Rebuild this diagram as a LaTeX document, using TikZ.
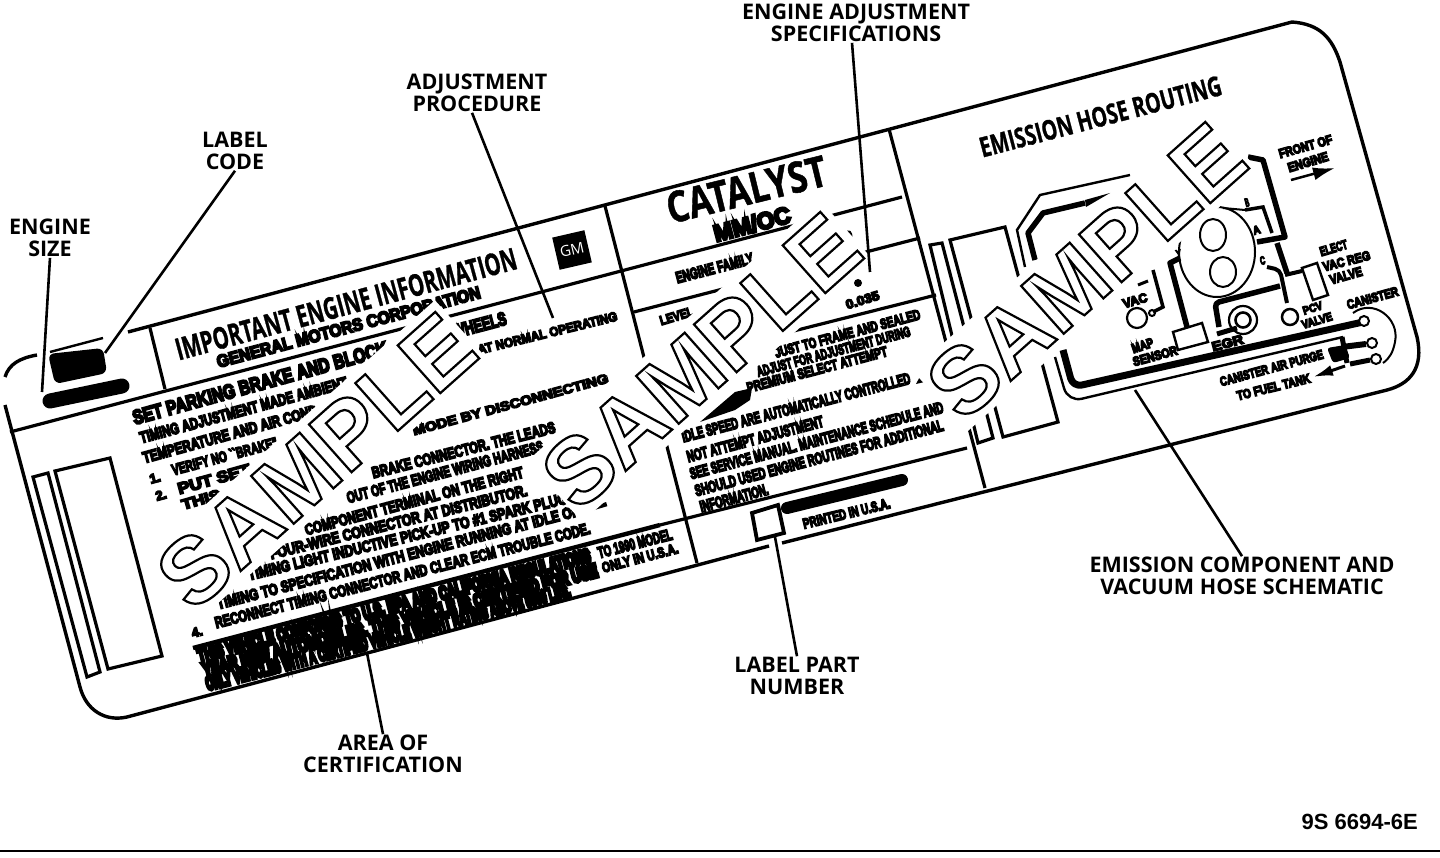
\documentclass[tikz,border=0pt]{standalone}
\usepackage{fontspec}
\usetikzlibrary{arrows.meta}
\newfontfamily\lblfont{Open Sans}
\newfontfamily\headfont[BoldFeatures={FakeBold=1.2}]{Open Sans}
\newfontfamily\stampfont{Liberation Sans}
\newfontfamily\blotfont[BoldFeatures={FakeBold=11}]{Liberation Sans}
\newfontfamily\certfont[BoldFeatures={FakeBold=24}]{Liberation Sans}
\newcounter{rowcount}
\newcommand{\rowfont}{\blotfont\bfseries}
\newcommand{\txtrow}[6][11]{%
  \stepcounter{rowcount}%
  \pgfmathsetmacro{\rowang}{atan2(#3-#5,#4-#2)}%
  \pgfmathsetmacro{\rowlen}{veclen(#4-#2,#5-#3)}%
  \node[rowtext, rotate=\rowang] (row\arabic{rowcount}) at (#2,#3)
    {\resizebox{\rowlen pt}{#1 pt}{\rowfont #6}};}
\newcommand{\stampword}{\special{pdf:code q 2 Tr 2.2 w 0 G 1 g}SAMPLE\special{pdf:code Q}}
\begin{document}
\begin{tikzpicture}[
    x=1pt, y=-1pt,
    outline/.style={line width=3.4pt, line join=round},
    rule/.style={line width=3.2pt},
    hose/.style={line width=5.5pt, line join=round},
    thinpart/.style={line width=2.4pt},
    bar/.style={line width=15pt, line cap=round},
    rowtext/.style={anchor=west, inner sep=0pt, outer sep=0pt},
    stamp/.style={fill=white, inner xsep=2pt, inner ysep=8pt, rotate=41.7, font=\stampfont\bfseries\fontsize{93}{93}\selectfont},
    lbl/.style={align=center, inner sep=1pt, font=\lblfont\bfseries\fontsize{21.5}{21.5}\selectfont},
    numeral/.style={inner sep=0pt, rotate=15, font=\blotfont\bfseries\fontsize{13}{13}\selectfont},
    leader/.style={line width=2.6pt}
  ]
  \useasboundingbox (0,0) rectangle (1440,858);

  % label outline
  \draw[outline] (128,332) -- (1292,22) .. controls (1320,24) and (1332,38) .. (1340,62) -- (1417,337)
    .. controls (1424,368) and (1410,384) .. (1387,390) -- (782,543);
  \draw[outline] (769,546) -- (127,717) .. controls (105,722) and (86,710) .. (80,687) -- (5,405);
  \draw[outline] (5,377) .. controls (9,364) and (20,358) .. (37,355);

  % rules
  \draw[rule] (10,432) -- (902,197);
  \draw[rule] (150,328) -- (165,389);
  \draw[rule] (605,206) -- (697,563);
  \draw[rule] (889,129) -- (985,488);
  \draw[rule] (634,312) -- (920,238);
  \draw[rule] (655,366) -- (936,295);
  \draw[line width=4.4pt] (193,648) -- (660,525);
  \draw[rule] (660,525) -- (967,448);

  % left panel
  \draw[rule] (33,477) -- (48,473) -- (100,672) -- (87,677) -- cycle;
  \draw[rule] (55,471) -- (110,458) -- (162,656) -- (108,669) -- cycle;
  % right panel
  \draw[rule] (930,245) -- (942,243) -- (993,438) -- (978,443) -- cycle;
  \draw[rule] (950,240) -- (1005,227) -- (1058,422) -- (1003,437) -- cycle;

  % code and size
  \draw[thinpart] (50,352) -- (103,338);
  \fill[rounded corners=6pt] (48,354) -- (103,348) -- (107,373) -- (55,384) -- cycle;
  \draw[bar] (50,401) -- (122,386);

  % headings
  \renewcommand{\rowfont}{\headfont\bfseries}
  \txtrow[22]{176}{350}{516}{258}{IMPORTANT ENGINE INFORMATION}
  \txtrow[31]{667}{209}{826}{170}{CATALYST}
  \txtrow[20]{980}{148}{1221}{85}{EMISSION HOSE ROUTING}
  \renewcommand{\rowfont}{\blotfont\bfseries}
  \node[fill=black, text=white, rotate=13, minimum size=33pt, inner sep=0pt, font=\lblfont\fontsize{15}{15}\selectfont] (gmlogo) at (572,250) {GM};

  % instructions
  \txtrow[12]{217}{362}{480}{292}{GENERAL MOTORS CORPORATION}
  \txtrow[14]{133}{418}{387}{348}{SET PARKING BRAKE AND BLOCK}
  \txtrow[13]{453}{332}{506}{318}{WHEELS}
  \txtrow[11]{140}{438}{347}{382}{TIMING ADJUSTMENT MADE AMBIENT}
  \txtrow[11]{143}{458}{317}{410}{TEMPERATURE AND AIR COND}
  \txtrow[11]{172}{470}{277}{442}{VERIFY NO ``BRAKE"}
  \txtrow[11]{178}{489}{250}{469}{PUT SET}
  \txtrow[10]{182}{505}{220}{494}{THIS}
  \txtrow[9]{478}{350}{617}{316}{AT NORMAL OPERATING}
  \txtrow[9]{413}{431}{608}{378}{MODE BY DISCONNECTING}
  \node[numeral] (stepone) at (155,478) {1.};
  \node[numeral] (steptwo) at (161,495) {2.};
  \node[numeral] (stepfour) at (197,632) {4.};
  \txtrow[11]{372}{473}{555}{427}{BRAKE CONNECTOR. THE LEADS}
  \txtrow[11]{347}{498}{543}{446}{OUT OF THE ENGINE WIRING HARNESS}
  \txtrow[11]{305}{530}{523}{472}{COMPONENT TERMINAL ON THE RIGHT}
  \txtrow[11]{270}{554}{527}{490}{FOUR-WIRE CONNECTOR AT DISTRIBUTOR.}
  \txtrow[11]{248}{575}{567}{498}{TIMING LIGHT INDUCTIVE PICK-UP TO \#1 SPARK PLUG}
  \txtrow[11]{217}{604}{580}{510}{TIMING TO SPECIFICATION WITH ENGINE RUNNING AT IDLE ON}
  \txtrow[6]{590}{511}{607}{506}{---}
  \txtrow[11]{215}{623}{590}{528}{RECONNECT TIMING CONNECTOR AND CLEAR ECM TROUBLE CODE.}

  % certification
  \renewcommand{\rowfont}{\certfont\bfseries}
  \txtrow[13]{198}{656}{590}{555}{THIS VEHICLE CONFORMS TO U.S. EPA AND CALIFORNIA REGULATIONS}
  \txtrow[13]{203}{670}{597}{570}{YEAR NEW AUTOMOBILES. THIS VEHICLE IS CERTIFIED FOR USE}
  \txtrow[13]{206}{684}{570}{590}{ONLY VEHICLES WITH A CERTIFIED VEHICLE WEIGHT RATING ABOVE 6000 LBS.}
  \renewcommand{\rowfont}{\blotfont\bfseries}
  \txtrow[11]{598}{553}{672}{534}{TO 1990 MODEL}
  \txtrow[10]{602}{568}{678}{548}{ONLY IN U.S.A.}

  % catalyst column
  \txtrow[17]{714}{234}{790}{214}{MM/OC}
  \txtrow[11]{676}{278}{753}{258}{ENGINE FAMILY}
  \txtrow[9]{660}{321}{693}{311}{LEVEL}
  \txtrow[8]{846}{236}{852}{234}{9}
  \txtrow[9]{846}{305}{879}{295}{0.035}
  \fill (858,283) circle (4pt);
  \txtrow[10]{775}{353}{920}{314}{JUST TO FRAME AND SEALED}
  \txtrow[10]{757}{372}{910}{331}{ADJUST FOR ADJUSTMENT DURING}
  \txtrow[10]{747}{388}{887}{351}{PREMIUM SELECT ATTEMPT}
  \fill (700,422) -- (735,392) -- (752,388) -- (750,400) -- (735,410) -- cycle;
  \txtrow[11]{682}{437}{910}{378}{IDLE SPEED ARE AUTOMATICALLY CONTROLLED}
  \fill (916,384) -- (924,369) -- (929,381) -- cycle;
  \txtrow[11]{687}{457}{823}{421}{NOT ATTEMPT ADJUSTMENT}
  \txtrow[11]{690}{474}{943}{407}{SEE SERVICE MANUAL. MAINTENANCE SCHEDULE AND}
  \txtrow[11]{695}{491}{943}{425}{SHOULD USED ENGINE ROUTINES FOR ADDITIONAL}
  \txtrow[11]{700}{507}{768}{489}{INFORMATION.}
  \draw[line width=12pt, line cap=round] (787,508) -- (902,480);
  \draw[line width=3.8pt] (752,513) -- (778,505) -- (784,533) -- (757,540) -- cycle;
  \txtrow[10]{803}{524}{890}{503}{PRINTED IN U.S.A.}

  % hose schematic
  \draw[thinpart] (1025,267) -- (1017,230) -- (1040,195) -- (1130,175);
  \draw[hose] (1035,260) -- (1028,233) -- (1043,213) -- (1085,203);
  \fill (1085,200) -- (1110,193) -- (1086,207) -- cycle;
  \draw[line width=7pt, line join=round, rounded corners=9pt] (1063,350) -- (1073,387) -- (1363,322);
  \draw[thinpart, rounded corners=14pt] (1055,357) -- (1068,402) -- (1343,337);
  \draw[line width=2pt] (1217,252) ellipse (38pt and 45pt);
  \draw[line width=2pt] (1213,235) ellipse (13pt and 16pt);
  \draw[line width=2pt] (1223,272) ellipse (13pt and 15pt);
  \draw[line width=2pt] (1223,208) -- (1245,210);
  \draw[hose] (1248,157) -- (1263,160) -- (1285,237) -- (1257,242);
  \draw[line width=3.5pt] (1245,210) -- (1263,207) -- (1272,233);
  \draw[hose] (1277,243) -- (1287,273);
  \draw[line width=4pt] (1285,275) -- (1302,271);
  \draw[line width=4pt, rounded corners=5pt] (1267,267) -- (1280,270) -- (1287,303);
  \draw[hose, rounded corners=4pt] (1280,286) -- (1215,303) -- (1219,327);
  \draw[line width=2.5pt] (1290,317) circle (8pt);
  \draw[thinpart] (1302,268) -- (1317,263) -- (1328,295) -- (1313,300) -- cycle;
  \draw[line width=2.2pt] (1243,320) circle (14pt);
  \draw[line width=2.6pt] (1243,320) circle (7.5pt);
  \draw[thinpart] (1173,332) -- (1202,323) -- (1208,342) -- (1178,350) -- cycle;
  \draw[hose] (1187,327) -- (1170,263) -- (1180,258);
  \draw[line width=2.2pt] (1137,318) circle (10pt);
  \draw[line width=2pt] (1152,313) circle (3pt);
  \draw[line width=3.5pt] (1153,270) -- (1163,307) -- (1153,312);
  \draw[line width=3pt] (1138,285) -- (1148,281);
  \draw[line width=2pt] (1353,313) .. controls (1373,298) and (1400,318) .. (1395,342) .. controls (1393,352) and (1390,358) .. (1383,363);
  \draw[line width=6pt] (1342,347) -- (1366,344);
  \draw[line width=5pt] (1350,364) -- (1370,360);
  \draw[line width=5pt] (1342,337) -- (1347,363);
  \fill[rounded corners=3pt] (1327,348) -- (1345,345) -- (1350,358) -- (1333,363) -- cycle;
  \filldraw[fill=white, line width=2pt] (1364,321) circle (5pt);
  \filldraw[fill=white, line width=2pt] (1372,343) circle (5pt);
  \filldraw[fill=white, line width=2pt] (1376,359) circle (5pt);
  \coordinate (fronttail) at (1291,180);
  \coordinate (fronttip) at (1335,168);
  \draw[-{Latex[length=22pt, width=13pt]}, line width=2.5pt] (fronttail) -- (fronttip);
  \coordinate (tanktail) at (1345,366);
  \coordinate (tanktip) at (1313,377);
  \draw[-{Latex[length=20pt, width=11pt]}, line width=3pt] (tanktail) -- (tanktip);
  \txtrow[8]{1245}{203}{1249}{202}{B}
  \txtrow[8]{1253}{231}{1260}{229}{A}
  \txtrow[8]{1260}{261}{1265}{260}{C}
  \txtrow[7]{1176}{254}{1181}{253}{Y}
  \txtrow[9]{1279}{154}{1332}{139}{FRONT OF}
  \txtrow[9]{1288}{168}{1328}{156}{ENGINE}
  \txtrow[9]{1320}{252}{1347}{244}{ELECT}
  \txtrow[9]{1323}{267}{1370}{255}{VAC REG}
  \txtrow[9]{1330}{280}{1362}{271}{VALVE}
  \txtrow[8]{1303}{311}{1322}{305}{PCV}
  \txtrow[8]{1302}{325}{1332}{316}{VALVE}
  \txtrow[9]{1347}{305}{1398}{291}{CANISTER}
  \txtrow[9]{1220}{382}{1323}{354}{CANISTER AIR PURGE}
  \txtrow[9]{1237}{396}{1310}{378}{TO FUEL TANK}
  \txtrow[9]{1123}{304}{1147}{297}{VAC}
  \txtrow[9]{1132}{349}{1153}{342}{MAP}
  \txtrow[9]{1133}{362}{1177}{350}{SENSOR}
  \txtrow[9]{1212}{347}{1243}{339}{EGR}
  \draw[line width=5pt] (1217,334) -- (1237,328);

  % stamps
  \node[stamp] (stampone) at (316,461) {\stampword};
  \node[stamp] (stamptwo) at (701,361) {\stampword};
  \node[stamp] (stampthree) at (1086,271) {\stampword};

  % callouts
  \node[lbl] (lblsize) at (50,238) {ENGINE\\SIZE};
  \node[lbl] (lblcode) at (235,151) {LABEL\\CODE};
  \node[lbl] (lblproc) at (477,93) {ADJUSTMENT\\PROCEDURE};
  \node[lbl] (lblspec) at (856,23) {ENGINE ADJUSTMENT\\SPECIFICATIONS};
  \node[lbl] (lblhose) at (1242,576) {EMISSION COMPONENT AND\\VACUUM HOSE SCHEMATIC};
  \node[lbl] (lblpart) at (797,676) {LABEL PART\\NUMBER};
  \node[lbl] (lblcert) at (383,754) {AREA OF\\CERTIFICATION};
  \coordinate (tipsize) at (42,392);
  \coordinate (tipcode) at (105,353);
  \coordinate (tipproc) at (553,318);
  \coordinate (tipspec) at (870,272);
  \coordinate (tiphose) at (1135,390);
  \coordinate (tippart) at (775,537);
  \coordinate (tipcert) at (367,653);
  \draw[leader] (lblsize.south) -- (tipsize);
  \draw[leader] (lblcode.south) -- (tipcode);
  \draw[leader] ([xshift=-5pt]lblproc.south) -- (tipproc);
  \draw[leader] ([xshift=-4pt]lblspec.south) -- (tipspec);
  \draw[leader] (lblhose.north) -- (tiphose);
  \draw[leader] (lblpart.north) -- (tippart);
  \draw[leader] (lblcert.north) -- (tipcert);

  \node[inner sep=0pt, anchor=east, font=\stampfont\bfseries\fontsize{22}{22}\selectfont] (figcode) at (1418,822) {9S 6694-6E};
  \coordinate (ruleleft) at (0,851);
  \coordinate (ruleright) at (1440,851);
  \draw[line width=2pt] (ruleleft) -- (ruleright);
\end{tikzpicture}
\end{document}
